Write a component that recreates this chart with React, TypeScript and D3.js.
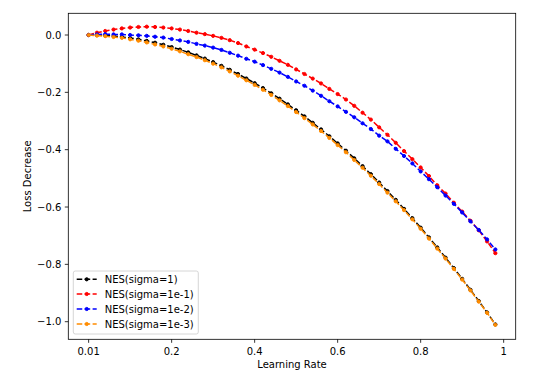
import React from 'react';
import * as d3 from 'd3';

const learningRates = [
  0, 0.02, 0.04, 0.06, 0.08, 0.1, 0.12, 0.14, 0.16, 0.18,
  0.2, 0.22, 0.24, 0.26, 0.28, 0.3, 0.32, 0.34, 0.36, 0.38,
  0.4, 0.42, 0.44, 0.46, 0.48, 0.5, 0.52, 0.54, 0.56, 0.58,
  0.6, 0.62, 0.64, 0.66, 0.68, 0.7, 0.72, 0.74, 0.76, 0.78,
  0.8, 0.82, 0.84, 0.86, 0.88, 0.9, 0.92, 0.94, 0.96, 0.98,
];

const xTickValues = [0, 0.2, 0.4, 0.6, 0.8, 1];
const xTickLabels = ['0.01', '0.2', '0.4', '0.6', '0.8', '1'];
const yTickValues = [0, -0.2, -0.4, -0.6, -0.8, -1.0];

const nesSigma1 = [
  0, -0.0005, -0.0017, -0.0038, -0.0067, -0.0105, -0.0152, -0.0206, -0.0269, -0.034,
  -0.0421, -0.0508, -0.0605, -0.071, -0.0823, -0.0945, -0.1076, -0.1214, -0.1361, -0.1517,
  -0.168, -0.1852, -0.2033, -0.2222, -0.2419, -0.2625, -0.2839, -0.3062, -0.3293, -0.3532,
  -0.378, -0.4036, -0.4301, -0.4574, -0.4855, -0.5145, -0.5443, -0.575, -0.6065, -0.6388,
  -0.672, -0.706, -0.7409, -0.7766, -0.8131, -0.8505, -0.8887, -0.9278, -0.9677, -1.0095,
];

const nesSigma1e1 = [
  0, 0.008, 0.014, 0.019, 0.023, 0.026, 0.028, 0.029, 0.028, 0.026,
  0.023, 0.019, 0.014, 0.008, 0.003, -0.003, -0.01, -0.018, -0.028, -0.04,
  -0.051, -0.063, -0.076, -0.09, -0.104, -0.12, -0.136, -0.152, -0.169, -0.188,
  -0.206, -0.225, -0.247, -0.271, -0.295, -0.322, -0.348, -0.376, -0.405, -0.433,
  -0.462, -0.492, -0.524, -0.553, -0.585, -0.616, -0.648, -0.681, -0.72, -0.761,
];

const nesSigma1e2 = [
  0, 0.002, 0.003, 0.002, 0.002, 0.0, -0.001, -0.003, -0.006, -0.009,
  -0.014, -0.019, -0.024, -0.031, -0.037, -0.044, -0.052, -0.062, -0.072, -0.083,
  -0.093, -0.105, -0.118, -0.131, -0.146, -0.162, -0.177, -0.194, -0.212, -0.231,
  -0.249, -0.268, -0.287, -0.308, -0.328, -0.351, -0.371, -0.397, -0.422, -0.448,
  -0.476, -0.503, -0.531, -0.56, -0.589, -0.619, -0.65, -0.68, -0.713, -0.748,
];

const nesSigma1e3 = [
  0, -0.002, -0.004, -0.007, -0.01, -0.015, -0.02, -0.026, -0.033, -0.04,
  -0.048, -0.057, -0.067, -0.077, -0.088, -0.1, -0.113, -0.127, -0.142, -0.158,
  -0.174, -0.191, -0.209, -0.228, -0.248, -0.269, -0.29, -0.312, -0.335, -0.359,
  -0.384, -0.409, -0.436, -0.463, -0.491, -0.52, -0.55, -0.58, -0.611, -0.643,
  -0.676, -0.71, -0.745, -0.78, -0.816, -0.853, -0.891, -0.93, -0.969, -1.011,
];

const seriesNames = ['NES(sigma=1)', 'NES(sigma=1e-1)', 'NES(sigma=1e-2)', 'NES(sigma=1e-3)'];
const seriesValues = [nesSigma1, nesSigma1e1, nesSigma1e2, nesSigma1e3];
const seriesColors = ['#000000', '#ff0000', '#0000ff', '#ff8c00'];

const W = 539;
const H = 378;
const AX = { left: 68.3, right: 515.7, top: 13.3, bottom: 339.3 };
const FONT = '"DejaVu Sans", Verdana, sans-serif';

export default function App() {
  const xExt = d3.extent(learningRates) as [number, number];
  const xPad = (xExt[1] - xExt[0]) * 0.05;
  const x = d3.scaleLinear().domain([xExt[0] - xPad, xExt[1] + xPad]).range([AX.left, AX.right]);
  const y = d3.scaleLinear().domain([-1.0614, 0.0757]).range([AX.bottom, AX.top]);
  const yFmt = d3.format('.1f');

  const line = d3
    .line<number>()
    .x((_, i) => x(learningRates[i]))
    .y((d) => y(d));

  const dash = '5.55,2.4';

  const legend = { x: 73.3, y: 271, w: 125, h: 63 };
  const rowY = [279.3, 294, 309, 324];

  return (
    <div style={{ position: 'fixed', left: 0, top: 0 }}>
      <svg width={W} height={H} viewBox={`0 0 ${W} ${H}`} style={{ display: 'block', background: '#fff' }}>
        <rect x={0} y={0} width={W} height={H} fill="#fff" />
        <defs>
          <clipPath id="axclip">
            <rect x={AX.left} y={AX.top} width={AX.right - AX.left} height={AX.bottom - AX.top} />
          </clipPath>
        </defs>

        {/* series */}
        <g clipPath="url(#axclip)">
          {seriesValues.map((vals, si) => (
            <g key={si}>
              <path
                d={line(vals) || ''}
                fill="none"
                stroke={seriesColors[si]}
                strokeWidth={1.5}
                strokeDasharray={dash}
              />
              {vals.map((v, i) => (
                <circle
                  key={i}
                  cx={x(learningRates[i])}
                  cy={y(v)}
                  r={1.6}
                  fill={seriesColors[si]}
                  stroke={seriesColors[si]}
                  strokeWidth={1}
                />
              ))}
            </g>
          ))}
        </g>

        {/* spines */}
        <rect
          x={AX.left}
          y={AX.top}
          width={AX.right - AX.left}
          height={AX.bottom - AX.top}
          fill="none"
          stroke="#000"
          strokeWidth={0.8}
        />

        {/* x ticks */}
        {xTickValues.map((t, i) => (
          <g key={i}>
            <line x1={x(t)} x2={x(t)} y1={AX.bottom} y2={AX.bottom + 3.5} stroke="#000" strokeWidth={0.8} />
            <text
              x={x(t)}
              y={AX.bottom + 7 + 8.4}
              textAnchor="middle"
              fontFamily={FONT}
              fontSize={10}
              fill="#000"
            >
              {xTickLabels[i]}
            </text>
          </g>
        ))}

        {/* y ticks */}
        {yTickValues.map((t, i) => (
          <g key={i}>
            <line x1={AX.left - 3.5} x2={AX.left} y1={y(t)} y2={y(t)} stroke="#000" strokeWidth={0.8} />
            <text
              x={AX.left - 7}
              y={y(t) + 3.6}
              textAnchor="end"
              fontFamily={FONT}
              fontSize={10}
              fill="#000"
            >
              {yFmt(t)}
            </text>
          </g>
        ))}

        {/* axis labels */}
        <text
          x={(AX.left + AX.right) / 2}
          y={367.5}
          textAnchor="middle"
          fontFamily={FONT}
          fontSize={10}
          fill="#000"
        >
          Learning Rate
        </text>
        <text
          transform={`translate(30.7, ${(AX.top + AX.bottom) / 2}) rotate(-90)`}
          textAnchor="middle"
          fontFamily={FONT}
          fontSize={10}
          fill="#000"
        >
          Loss Decrease
        </text>

        {/* legend */}
        <rect
          x={legend.x}
          y={legend.y}
          width={legend.w}
          height={legend.h}
          rx={2}
          ry={2}
          fill="#fff"
          fillOpacity={0.8}
          stroke="#cccccc"
          strokeWidth={0.8}
        />
        {seriesNames.map((name, si) => (
          <g key={si}>
            <line
              x1={76.7}
              x2={96.7}
              y1={rowY[si]}
              y2={rowY[si]}
              stroke={seriesColors[si]}
              strokeWidth={1.5}
              strokeDasharray={dash}
            />
            <circle cx={86.7} cy={rowY[si]} r={1.6} fill={seriesColors[si]} stroke={seriesColors[si]} strokeWidth={1} />
            <text x={104.7} y={rowY[si] + 3.6} fontFamily={FONT} fontSize={10} fill="#000">
              {name}
            </text>
          </g>
        ))}
      </svg>
    </div>
  );
}
